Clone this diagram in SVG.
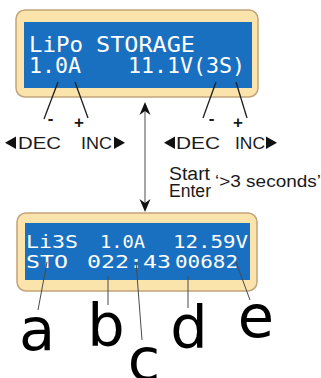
<svg xmlns="http://www.w3.org/2000/svg" width="321" height="378" viewBox="0 0 321 378">
<style>
.frame{fill:#fbe4ac;stroke:#c2a47a;stroke-width:1.5}
.lcd{fill:#1a70c0}
.lcdt{font-family:"DejaVu Sans Mono","Liberation Mono",monospace;fill:#ffffff}
.lbl{font-family:"Liberation Sans",Arial,sans-serif;fill:#1a1a1a}
.sign{font-family:"Liberation Sans",Arial,sans-serif;font-weight:bold;fill:#1a1a1a;text-anchor:middle}
.big{font-family:"DejaVu Sans",Verdana,sans-serif;font-size:59px;fill:#000;text-anchor:middle}
.lead{stroke:#1e1e1e;stroke-width:1.3;fill:none}
.lead2{stroke:#4a4a4a;stroke-width:1;fill:none}
.tri{fill:#111}
</style>
<g id="lcd-top">
<rect class="frame" x="16" y="10" width="242" height="87" rx="9"/>
<rect class="lcd" x="24" y="22" width="228" height="66"/>
<text class="lcdt" font-size="21" x="29" y="51.5" textLength="54" lengthAdjust="spacingAndGlyphs">LiPo</text>
<text class="lcdt" font-size="21" x="96" y="51.5" textLength="99" lengthAdjust="spacingAndGlyphs">STORAGE</text>
<text class="lcdt" font-size="21" x="29" y="72.5" textLength="52" lengthAdjust="spacingAndGlyphs">1.0A</text>
<text class="lcdt" font-size="21" x="128" y="72.5" textLength="117" lengthAdjust="spacingAndGlyphs">11.1V(3S)</text>
</g>
<g id="keys-left">
<text class="sign" font-size="17" x="50.5" y="124">-</text>
<text class="sign" font-size="17" x="79" y="128">+</text>
<polygon class="tri" points="5,142.7 16,136.5 16,149"/>
<text class="lbl" font-size="17" x="18" y="149" textLength="43" lengthAdjust="spacingAndGlyphs">DEC</text>
<text class="lbl" font-size="17" x="81" y="149" textLength="31" lengthAdjust="spacingAndGlyphs">INC</text>
<polygon class="tri" points="114,136.5 114,149 125,142.7"/>
</g>
<g id="keys-right">
<text class="sign" font-size="17" x="211.5" y="124">-</text>
<text class="sign" font-size="17" x="238" y="128">+</text>
<polygon class="tri" points="164,142.7 175,136.5 175,149"/>
<text class="lbl" font-size="17" x="176" y="149" textLength="44" lengthAdjust="spacingAndGlyphs">DEC</text>
<text class="lbl" font-size="17" x="235" y="149" textLength="30" lengthAdjust="spacingAndGlyphs">INC</text>
<polygon class="tri" points="266,136.5 266,149 277,142.7"/>
</g>
<g id="start-note">
<text class="lbl" font-size="18" x="169" y="180" textLength="41" lengthAdjust="spacingAndGlyphs">Start</text>
<text class="lbl" font-size="18" x="169" y="197" textLength="42" lengthAdjust="spacingAndGlyphs">Enter</text>
<text class="lbl" font-size="16.5" x="215" y="187" textLength="106" lengthAdjust="spacingAndGlyphs">‘&gt;3 seconds’</text>
</g>
<g id="lcd-bottom">
<rect class="frame" x="17" y="213" width="240" height="78" rx="9"/>
<rect class="lcd" x="25" y="223" width="225" height="57"/>
<text class="lcdt" font-size="18" x="26" y="248" textLength="52" lengthAdjust="spacingAndGlyphs">Li3S</text>
<text class="lcdt" font-size="18" x="100" y="248" textLength="45" lengthAdjust="spacingAndGlyphs">1.0A</text>
<text class="lcdt" font-size="18" x="173" y="248" textLength="75" lengthAdjust="spacingAndGlyphs">12.59V</text>
<text class="lcdt" font-size="18" x="26" y="268" textLength="42" lengthAdjust="spacingAndGlyphs">STO</text>
<text class="lcdt" font-size="18" x="87" y="268" textLength="84" lengthAdjust="spacingAndGlyphs">022:43</text>
<text class="lcdt" font-size="18" x="175" y="268" textLength="63" lengthAdjust="spacingAndGlyphs">00682</text>
</g>
<g id="labels">
<text class="big" x="37" y="350">a</text>
<text class="big" x="106" y="346">b</text>
<text class="big" x="144" y="380">c</text>
<text class="big" x="189" y="348">d</text>
<text class="big" x="256" y="337">e</text>
</g>
<g id="connectors">
<line class="lead" x1="58" y1="82" x2="44" y2="119"/>
<line class="lead" x1="75" y1="82" x2="88" y2="118"/>
<line class="lead" x1="216" y1="82" x2="203" y2="118"/>
<line class="lead" x1="236" y1="82" x2="247" y2="118"/>
<line x1="145" y1="108" x2="145" y2="206" stroke="#6a6a6a" stroke-width="1.2"/>
<path class="tri" d="M145,102 L150.5,115 L145,111 L139.5,115 Z"/>
<path class="tri" d="M145,212 L150.5,199 L145,203 L139.5,199 Z"/>
<line class="lead2" x1="47" y1="262" x2="38" y2="310"/>
<line class="lead2" x1="108" y1="276" x2="108" y2="305"/>
<line class="lead2" x1="136" y1="262" x2="142" y2="340"/>
<line class="lead2" x1="188" y1="276" x2="188" y2="308"/>
<line class="lead2" x1="236" y1="262" x2="250" y2="300"/>
</g>
</svg>
